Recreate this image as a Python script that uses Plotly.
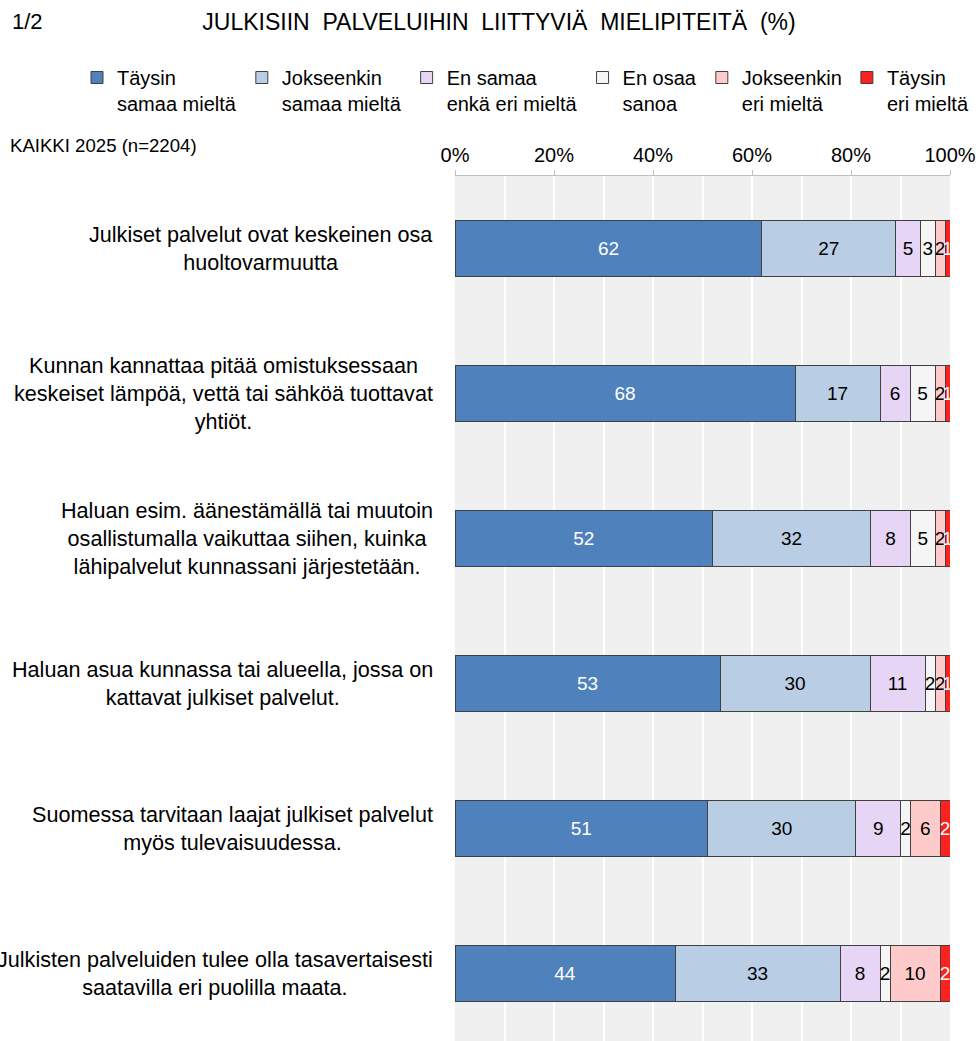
import plotly.graph_objects as go

categories = [
    "Julkiset palvelut ovat keskeinen osa<br>huoltovarmuutta",
    "Kunnan kannattaa pitää omistuksessaan<br>keskeiset lämpöä, vettä tai sähköä tuottavat<br>yhtiöt.",
    "Haluan esim. äänestämällä tai muutoin<br>osallistumalla vaikuttaa siihen, kuinka<br>lähipalvelut kunnassani järjestetään.",
    "Haluan asua kunnassa tai alueella, jossa on<br>kattavat julkiset palvelut.",
    "Suomessa tarvitaan laajat julkiset palvelut<br>myös tulevaisuudessa.",
    "Julkisten palveluiden tulee olla tasavertaisesti<br>saatavilla eri puolilla maata.",
]

series_names = [
    "Täysin<br>samaa mieltä",
    "Jokseenkin<br>samaa mieltä",
    "En samaa<br>enkä eri mieltä",
    "En osaa<br>sanoa",
    "Jokseenkin<br>eri mieltä",
    "Täysin<br>eri mieltä",
]

taysin_samaa = [62, 68, 52, 53, 51, 44]
jokseenkin_samaa = [27, 17, 32, 30, 30, 33]
en_samaa_enka_eri = [5, 6, 8, 11, 9, 8]
en_osaa = [3, 5, 5, 2, 2, 2]
jokseenkin_eri = [2, 2, 2, 2, 6, 10]
taysin_eri = [1, 1, 1, 1, 2, 2]

series_values = [taysin_samaa, jokseenkin_samaa, en_samaa_enka_eri,
                 en_osaa, jokseenkin_eri, taysin_eri]

x_ticks = [0, 20, 40, 60, 80, 100]

colors = ["#4F81BD", "#B9CDE5", "#E6D5F5", "#F5F5F5", "#FFCACA", "#FF2020"]
text_colors = ["white", "black", "black", "black", "black", "white"]

FONT = "Liberation Sans, Arial, sans-serif"

W, H = 978, 1041
ML, MR, MT, MB = 455, 28, 176, 0
PW = W - ML - MR
PH = H - MT - MB


def px_x(x):
    return (x - ML) / PW


def px_y(y):
    return (H - MB - y) / PH


# rounded labels shown; bar lengths scaled so each row spans 100 %
row_totals = [sum(col) for col in zip(*series_values)]

fig = go.Figure()
idx = list(range(len(categories)))
for name, vals, col, tcol in zip(series_names, series_values, colors, text_colors):
    fig.add_trace(go.Bar(
        y=idx, x=[v / t * 100 for v, t in zip(vals, row_totals)],
        name=name, orientation="h",
        marker=dict(color=col, line=dict(color="#404040", width=1)),
        text=[str(v) for v in vals],
        textposition="inside", insidetextanchor="middle", textangle=0,
        textfont=dict(color=tcol, size=19, family=FONT),
        hoverinfo="skip",
    ))

for i, cat in enumerate(categories):
    fig.add_annotation(
        x=0, xref="paper", y=i, yref="y", text=cat, showarrow=False,
        xanchor="right", yanchor="middle", align="center", xshift=-20,
        font=dict(size=21.6, family=FONT, color="black"),
    )

fig.add_annotation(x=px_x(10), xref="paper", y=px_y(22), yref="paper",
                   text="1/2", showarrow=False, xanchor="left", yanchor="middle",
                   font=dict(size=22, family=FONT, color="black"))
fig.add_annotation(x=px_x(8), xref="paper", y=px_y(145), yref="paper",
                   text="KAIKKI 2025 (n=2204)", showarrow=False, xanchor="left",
                   yanchor="middle", font=dict(size=18.6, family=FONT, color="black"))

fig.update_layout(
    width=W, height=H,
    margin=dict(l=ML, r=MR, t=MT, b=MB, pad=0),
    paper_bgcolor="white", plot_bgcolor="#F0F0F0",
    barmode="stack", bargap=0.607,
    uniformtext=dict(minsize=19, mode="show"),
    font=dict(family=FONT, color="black"),
    title=dict(text="JULKISIIN  PALVELUIHIN  LIITTYVIÄ  MIELIPITEITÄ  (%)",
               x=499 / W, xanchor="center", y=1 - 22 / H, yanchor="middle",
               font=dict(size=23, family=FONT, color="black")),
    showlegend=True,
    legend=dict(orientation="h", x=px_x(77), xanchor="left",
                y=px_y(58), yanchor="top", valign="top",
                font=dict(size=20, family=FONT, color="black"),
                itemwidth=30, traceorder="normal", bgcolor="rgba(0,0,0,0)",
                itemclick=False, itemdoubleclick=False),
    xaxis=dict(side="top", range=[0, 100], tickvals=x_ticks,
               ticktext=[f"{v}%" for v in x_ticks],
               tickfont=dict(size=20, family=FONT, color="black"),
               showline=True, linecolor="#BFBFBF", linewidth=1,
               ticks="outside", ticklen=5, tickcolor="#BFBFBF",
               showgrid=True, gridcolor="white", gridwidth=1.5,
               minor=dict(dtick=10, tick0=0, showgrid=True, gridcolor="white", gridwidth=1.5),
               zeroline=False, fixedrange=True),
    yaxis=dict(range=[(PH / 145) - 0.5, -0.5], showticklabels=False,
               showgrid=False, zeroline=False, showline=False, fixedrange=True),
)

fig.write_html("out.html")
